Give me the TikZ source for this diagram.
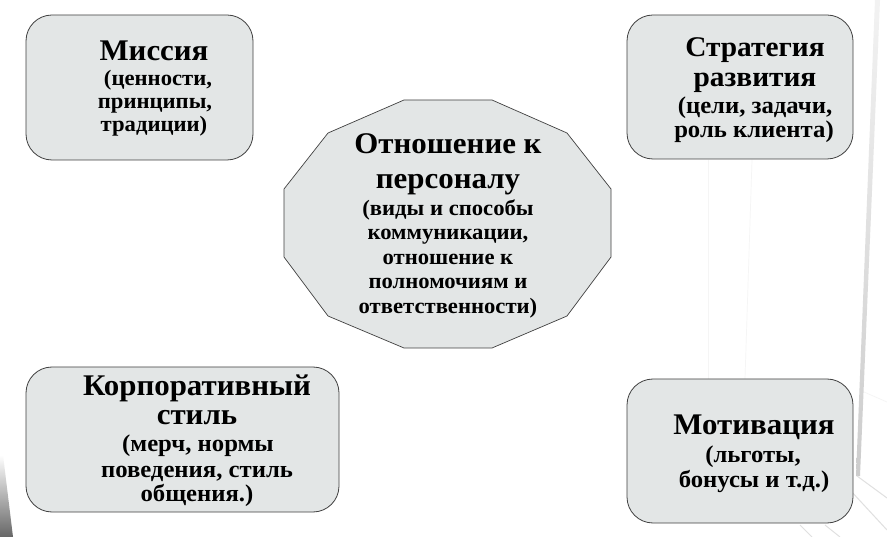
\documentclass[tikz,border=0pt]{standalone}
\usepackage{fontspec}
\setmainfont{Liberation Serif}[FakeStretch=1.03]
\definecolor{panelgray}{HTML}{E3E6E6}
\tikzset{
  panel/.style={draw=black!75, line width=0.8pt, fill=panelgray},
  roundpanel/.style={panel, rounded corners=26pt},
  titletext/.style={font=\bfseries\fontsize{30}{33}\selectfont, text=black, inner sep=0pt, anchor=base},
  subtext/.style={font=\bfseries\fontsize{22}{25}\selectfont, text=black, inner sep=0pt, anchor=base},
  subtextbig/.style={subtext, font=\bfseries\fontsize{24}{27}\selectfont},
  faintline/.style={black!4, line width=0.7pt},
  walledge/.style={black!12, line width=1pt},
}
\begin{document}
\begin{tikzpicture}[x=1pt,y=-1pt]
\useasboundingbox (0,0) rectangle (887,537);
\fill[white] (0,0) rectangle (887,537);
% background texture
\shade[top color=white, bottom color=black!60] (0,455) -- (3,455) -- (13,537) -- (0,537) -- cycle;
\shade[top color=black!5, bottom color=black!20] (875,0) -- (880,0) -- (860,476) -- (856,476) -- cycle;
\draw[faintline] (864,392) -- (887,402);
\draw[walledge] (857,476) -- (887,498);
\draw[walledge] (850,490) -- (887,530);
\draw[walledge] (800,525) -- (812,537);
\draw[walledge] (825,525) -- (840,537);
\draw[faintline] (708,160) -- (708,379);
\draw[faintline] (752,160) -- (745,379);
% panels
\draw[roundpanel] (26,15) rectangle (253,160);
\draw[roundpanel] (627,15) rectangle (853,159);
\draw[roundpanel] (26,367) rectangle (339,512);
\draw[roundpanel] (627,379) rectangle (853,523);
\draw[panel, line width=0.7pt] (404,100) -- (492,100) -- (567,133) -- (611,189) -- (611,257) -- (567,316) -- (492,348) -- (404,348) -- (328,316) -- (284,257) -- (284,189) -- (328,133) -- cycle;
% mission
\node[titletext] (m1) at (154,61) {Миссия};
\node[subtext] (m2) at (158,86) {(ценности,};
\node[subtext] (m3) at (155,109) {принципы,};
\node[subtext] (m4) at (154,132) {традиции)};
% strategy
\node[titletext, font=\bfseries\fontsize{28.5}{31}\selectfont] (s1) at (755,57) {Стратегия};
\node[titletext, font=\bfseries\fontsize{28.5}{31}\selectfont] (s2) at (755,87) {развития};
\node[subtextbig] (s3) at (755,114) {(цели, задачи,};
\node[subtextbig] (s4) at (754,138) {роль клиента)};
% centre
\node[titletext] (c1) at (448,154) {Отношение к};
\node[titletext] (c2) at (448,189) {персоналу};
\node[subtext] (c3) at (448,216) {(виды и способы};
\node[subtext] (c4) at (448,240) {коммуникации,};
\node[subtext] (c5) at (448,265) {отношение к};
\node[subtext] (c6) at (448,289) {полномочиям и};
\node[subtext] (c7) at (448,314) {ответственности)};
% style
\node[titletext] (k1) at (197,396) {Корпоративный};
\node[titletext] (k2) at (197,425) {стиль};
\node[subtextbig] (k3) at (198,452) {(мерч, нормы};
\node[subtextbig] (k4) at (197,477) {поведения, стиль};
\node[subtextbig] (k5) at (197,501) {общения.)};
% motivation
\node[titletext] (v1) at (754,435) {Мотивация};
\node[subtextbig] (v2) at (753,463) {(льготы,};
\node[subtextbig] (v3) at (754,487) {бонусы и т.д.)};
\end{tikzpicture}
\end{document}
